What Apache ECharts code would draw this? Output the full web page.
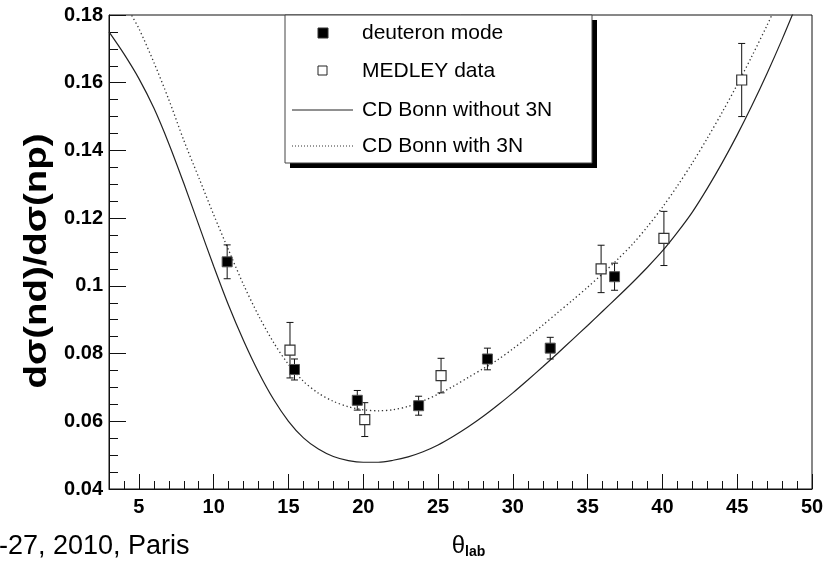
<!DOCTYPE html>
<html>
<head>
<meta charset="utf-8">
<script src="https://cdn.jsdelivr.net/npm/echarts@6/dist/echarts.min.js"></script>
<style>html,body{margin:0;padding:0;background:#fff}#c{width:831px;height:564px}</style>
</head>
<body>
<div id="c"></div>
<script>
// deuteron mode: [theta, ratio, error]
const deuteronMode = [
  [10.9, 0.1071, 0.0050],
  [15.4, 0.0753, 0.0031],
  [19.6, 0.0662, 0.0029],
  [23.7, 0.0646, 0.0028],
  [28.3, 0.0784, 0.0032],
  [32.5, 0.0816, 0.0032],
  [36.8, 0.1027, 0.0040]
];
// MEDLEY data: [theta, ratio, error]
const medleyData = [
  [15.1, 0.0810, 0.0082],
  [20.1, 0.0605, 0.0050],
  [25.2, 0.0735, 0.0051],
  [35.9, 0.1050, 0.0070],
  [40.1, 0.1140, 0.0080],
  [45.3, 0.1608, 0.0108]
];
// CD Bonn without 3N
const bonnNo3N = [
  [3,0.175],[4,0.1685],[5,0.1612],[6,0.1525],[7,0.1420],[8,0.1303],[9,0.1180],[10,0.1058],
  [11,0.0942],[12,0.0838],[13,0.0745],[14,0.0665],[15,0.0600],[16,0.0551],[17,0.0518],[18,0.0496],
  [19,0.0484],[20,0.0479],[21,0.0479],[22,0.0485],[23,0.0495],[24,0.0510],[25,0.0530],[26,0.0555],
  [27,0.0583],[28,0.0614],[29,0.0648],[30,0.0684],[31,0.0722],[32,0.0761],[33,0.0801],[34,0.0842],
  [35,0.0883],[36,0.0925],[37,0.0967],[38,0.1010],[39,0.1055],[40,0.1103],[41,0.1158],[42,0.1218],
  [43,0.1288],[44,0.1364],[45,0.1446],[46,0.1534],[47,0.1628],[48,0.1728],[49,0.1834]
];
// CD Bonn with 3N
const bonnWith3N = [
  [4,0.184],[4.5,0.180],[5,0.176],[6,0.166],[7,0.155],[8,0.143],[9,0.132],[10,0.121],[11,0.1105],
  [12,0.1003],[13,0.0912],[14,0.0833],[15,0.0768],[16,0.0718],[17,0.0683],[18,0.0659],[19,0.0643],
  [20,0.0634],[21,0.0631],[22,0.0634],[23,0.0644],[24,0.0660],[25,0.0680],[26,0.0703],[27,0.0729],
  [28,0.0755],[29,0.0782],[30,0.0814],[31,0.0848],[32,0.0884],[33,0.0921],[34,0.0958],[35,0.0996],
  [36,0.1036],[37,0.1078],[38,0.1123],[39,0.1175],[40,0.1232],[41,0.1295],[42,0.1363],[43,0.1436],
  [44,0.1513],[45,0.1594],[46,0.1680],[47,0.1770],[48,0.1865]
];
const xMajorTicks = [5,10,15,20,25,30,35,40,45,50];
const legendNames = ['deuteron mode','MEDLEY data','CD Bonn without 3N','CD Bonn with 3N'];
const yTitle = 'dσ(nd)/dσ(np)';
const footText = '-27, 2010, Paris';

const chart = echarts.init(document.getElementById('c'), null, {renderer:'canvas'});
const FONT = '"Liberation Sans", Arial, Helvetica, sans-serif';

function errRender(params, api) {
  const x = api.value(0), y = api.value(1), e = api.value(2);
  const top = api.coord([x, y + e]);
  const bot = api.coord([x, y - e]);
  const cw = 3.5;
  const st = {stroke:'#111', lineWidth:1};
  return {type:'group', children:[
    {type:'line', shape:{x1:top[0],y1:top[1],x2:bot[0],y2:bot[1]}, style:st},
    {type:'line', shape:{x1:top[0]-cw,y1:top[1],x2:top[0]+cw,y2:top[1]}, style:st},
    {type:'line', shape:{x1:bot[0]-cw,y1:bot[1],x2:bot[0]+cw,y2:bot[1]}, style:st}
  ]};
}

const legX = 285, legY = 15, legW = 307, legH = 148;
const rows = [33, 71, 110, 146];

chart.setOption({
  animation:false,
  backgroundColor:'#fff',
  grid:{left:109, top:15, right:19, bottom:72, show:true, borderColor:'#111', borderWidth:1},
  xAxis:[{
    type:'value', min:3, max:50, interval:1,
    axisLine:{show:true, lineStyle:{color:'#111', width:1}},
    axisTick:{show:true, inside:true, length:8, lineStyle:{color:'#111'}},
    axisLabel:{show:true, customValues:xMajorTicks, margin:8, color:'#000', fontFamily:FONT, fontWeight:'bold', fontSize:20},
    splitLine:{show:false},
    name:'{t|θ}{s|lab}', nameLocation:'middle', nameGap:44,
    nameTextStyle:{rich:{
      t:{fontFamily:FONT, fontSize:24, color:'#000', padding:[0,0,0,16]},
      s:{fontFamily:FONT, fontSize:14, fontWeight:'bold', color:'#000', padding:[12,0,0,0]}
    }}
  },{
    type:'value', min:3, max:50, position:'bottom', interval:5,
    axisLine:{show:false},
    axisTick:{show:true, inside:true, length:15, customValues:xMajorTicks, lineStyle:{color:'#111'}},
    axisLabel:{show:false},
    splitLine:{show:false}
  }],
  yAxis:{
    type:'value', min:0.04, max:0.18, interval:0.02,
    axisLine:{show:true, lineStyle:{color:'#111', width:1}},
    axisTick:{show:true, inside:true, length:17, lineStyle:{color:'#111'}},
    minorTick:{show:true, splitNumber:4, length:9, lineStyle:{color:'#111'}},
    axisLabel:{margin:6, color:'#000', fontFamily:FONT, fontWeight:'bold', fontSize:20,
      formatter:v=>String(+v.toFixed(3))},
    splitLine:{show:false}
  },
  series:[
    {name:legendNames[2], type:'line', data:bonnNo3N, smooth:0.3, showSymbol:false, symbol:'none', clip:true,
      lineStyle:{color:'#222', width:1.2, type:'solid'}, z:2},
    {name:legendNames[3], type:'line', data:bonnWith3N, smooth:0.3, showSymbol:false, symbol:'none', clip:true,
      lineStyle:{color:'#333', width:1.3, type:[1.3,2.7]}, z:2},
    {name:'err1', type:'custom', data:deuteronMode, renderItem:errRender, z:3},
    {name:'err2', type:'custom', data:medleyData, renderItem:errRender, z:3},
    {name:legendNames[0], type:'scatter', data:deuteronMode.map(d=>[d[0],d[1]]), symbol:'rect', symbolSize:10,
      itemStyle:{color:'#000', borderColor:'#555', borderWidth:1, opacity:1}, z:4},
    {name:legendNames[1], type:'scatter', data:medleyData.map(d=>[d[0],d[1]]), symbol:'rect', symbolSize:10,
      itemStyle:{color:'#fff', borderColor:'#333', borderWidth:1.2, opacity:1}, z:4}
  ],
  graphic:[
    {type:'rect', z:10, shape:{x:legX+5, y:legY+5, width:legW, height:legH}, style:{fill:'#000'}},
    {type:'rect', z:11, shape:{x:legX, y:legY, width:legW, height:legH}, style:{fill:'#fff', stroke:'#444', lineWidth:1}},
    {type:'rect', z:12, shape:{x:318, y:rows[0]-5, width:10, height:10}, style:{fill:'#000', stroke:'#333', lineWidth:1}},
    {type:'rect', z:12, shape:{x:318, y:rows[1]-5, width:9, height:9}, style:{fill:'#fff', stroke:'#222', lineWidth:1}},
    {type:'line', z:12, shape:{x1:292, y1:rows[2], x2:353, y2:rows[2]}, style:{stroke:'#222', lineWidth:1}},
    {type:'line', z:12, shape:{x1:292, y1:rows[3], x2:353, y2:rows[3]}, style:{stroke:'#333', lineWidth:1, lineDash:[1,2]}},
    ...legendNames.map((n,i)=>({type:'text', z:12, x:362, y:rows[i],
      style:{text:n, fill:'#000', font:'21px '+FONT, verticalAlign:'middle', align:'left'}})),
    {type:'text', x:37, y:261, rotation:Math.PI/2, scaleX:1.2,
      style:{text:yTitle, fill:'#000', font:'bold 32px '+FONT, align:'center', verticalAlign:'middle'}},
    {type:'text', x:-1, y:547, style:{text:footText, fill:'#000', font:'27px '+FONT, verticalAlign:'middle'}}
  ]
});
</script>
</body>
</html>
